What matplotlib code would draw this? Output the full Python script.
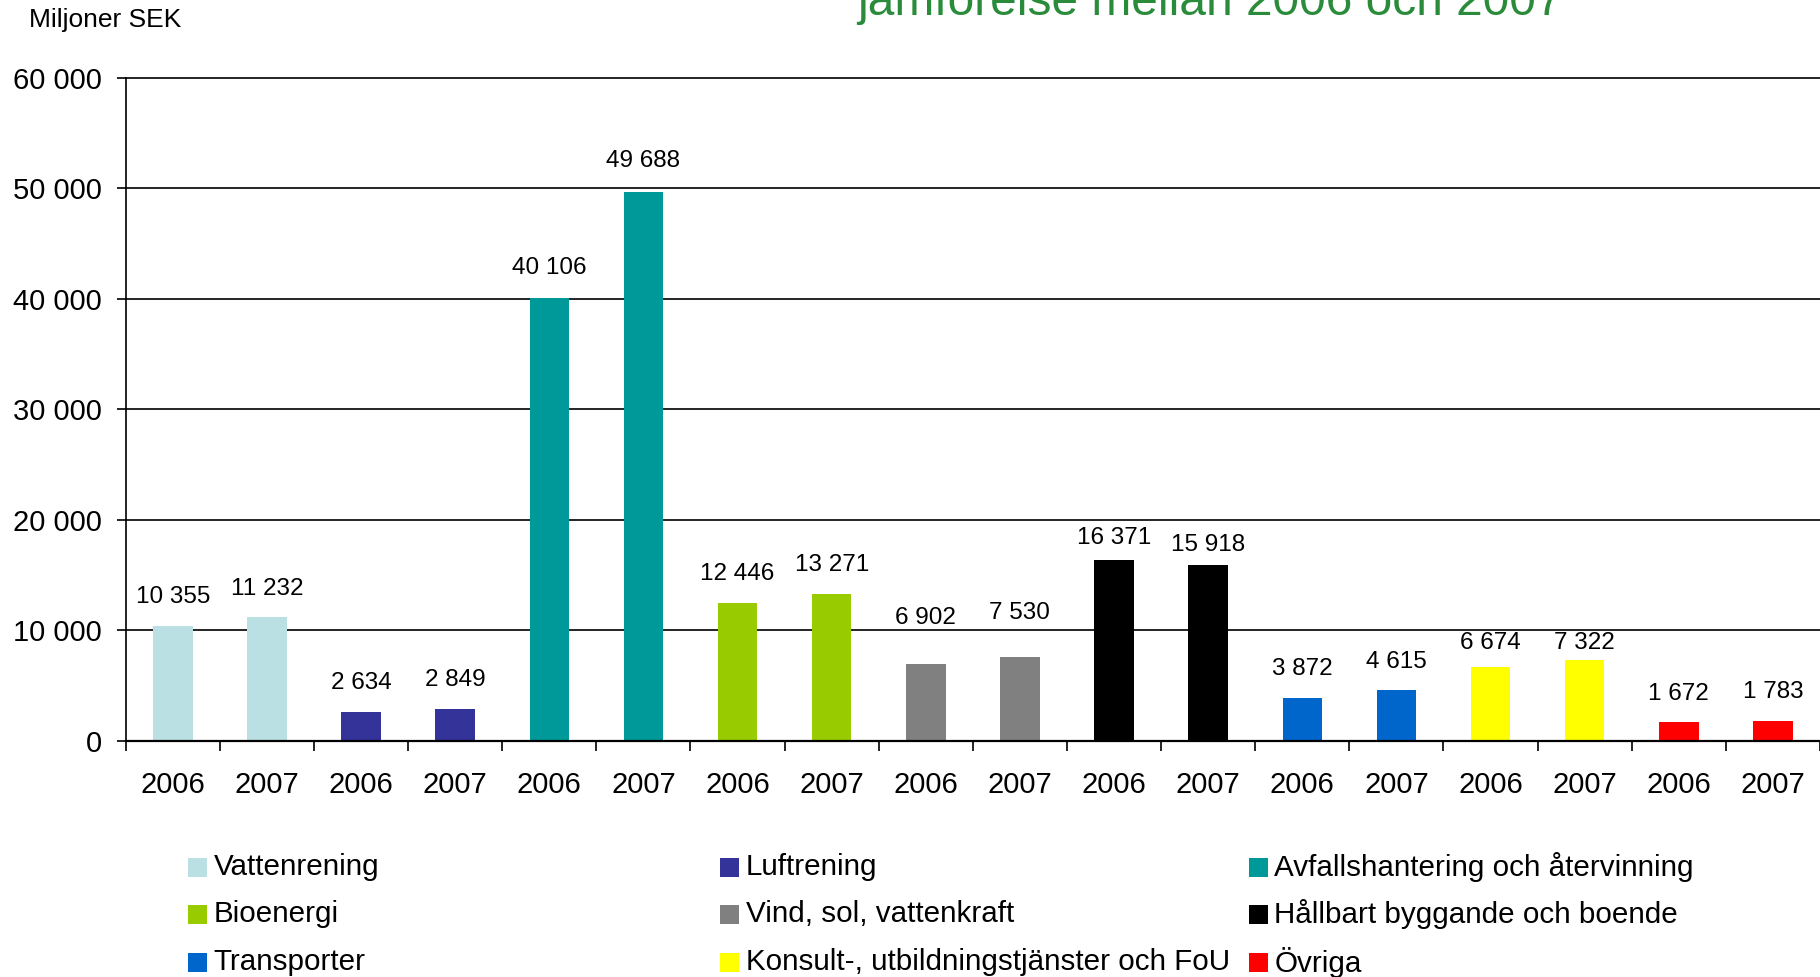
import matplotlib
matplotlib.use("Agg")
from matplotlib import pyplot as plt
from matplotlib.patches import Rectangle
import matplotlib as mpl

# data
categories = ["Vattenrening", "Luftrening", "Avfallshantering och återvinning",
              "Bioenergi", "Vind, sol, vattenkraft", "Hållbart byggande och boende",
              "Transporter", "Konsult-, utbildningstjänster och FoU", "Övriga"]
colors = ["#BBE0E3", "#333399", "#009999", "#99CC00", "#808080", "#000000",
          "#0066CC", "#FFFF00", "#FF0000"]
years = ["2006", "2007"]
values_2006 = [10355, 2634, 40106, 12446, 6902, 16371, 3872, 6674, 1672]
values_2007 = [11232, 2849, 49688, 13271, 7530, 15918, 4615, 7322, 1783]
yticks = [0, 10000, 20000, 30000, 40000, 50000, 60000]

# label offsets above bar top (px), as placed in the original
label_dy = [29, 28, 29, 29, 30, 31, 29, 29, 46, 44, 22, 20, 29, 28, 24, 17, 28, 29]

W, H = 1820, 977
mpl.rcParams.update({"font.family": ["Liberation Sans", "DejaVu Sans"]})
fig = plt.figure(figsize=(W / 100, H / 100), dpi=100)
ax = fig.add_axes([125.7 / W, 1 - 740.7 / H, 1 - 125.7 / W, (740.7 - 77.7) / H])

def fmt(v):
    return f"{v:,}".replace(",", " ")

vals, cols, labs = [], [], []
for i in range(len(categories)):
    vals += [values_2006[i], values_2007[i]]
    cols += [colors[i], colors[i]]
    labs += years
xs = list(range(len(vals)))

ax.set_ylim(0, 60000)
ax.set_xlim(-0.5, len(vals) - 0.5)
for y in yticks[1:]:
    ax.axhline(y, color="black", lw=1.2, zorder=1, clip_on=False)
ax.bar(xs, vals, width=0.42, color=cols, zorder=2)
ax.axhline(0, color="black", lw=1.6, zorder=3, clip_on=False)

for x, v, dy in zip(xs, vals, label_dy):
    ax.annotate(fmt(v), (x, v), xytext=(0, dy * 0.72), textcoords="offset points",
                ha="center", va="center", fontsize=17.5)

for s in ["top", "right", "bottom"]:
    ax.spines[s].set_visible(False)
ax.spines["left"].set_linewidth(1.2)

ax.set_yticks(yticks)
ax.set_yticklabels([fmt(v) for v in yticks], fontsize=21)
ax.tick_params(axis="y", direction="out", length=6.5, width=1.2, pad=10.5)
ax.set_xticks(xs)
ax.set_xticklabels(labs, fontsize=21)
ax.tick_params(axis="x", which="major", length=0, pad=21.5)
ax.set_xticks([i - 0.5 for i in range(len(vals) + 1)], minor=True)
ax.tick_params(axis="x", which="minor", direction="out", length=7.2, width=1.2)

fig.text(29 / W, 1 - 20 / H, "Miljoner SEK", fontsize=19, ha="left", va="center")
fig.text(857 / W, 1 - 15 / H, "jämförelse mellan 2006 och 2007", fontsize=34.5,
         color="#2A8C3A", ha="left", va="baseline")

# legend, laid out row by row in three columns
col_x = [188, 720, 1249]
row_y = [867, 914, 962]
for i, (name, c) in enumerate(zip(categories, colors)):
    cx, cy = col_x[i % 3], row_y[i // 3]
    fig.add_artist(Rectangle((cx / W, 1 - (cy + 9.5) / H), 18.5 / W, 19 / H,
                             facecolor=c, edgecolor="none", transform=fig.transFigure))
    fig.text((cx + 25.5) / W, 1 - cy / H, name, fontsize=21.3, ha="left", va="center")

fig.savefig("out.png", dpi=100)
